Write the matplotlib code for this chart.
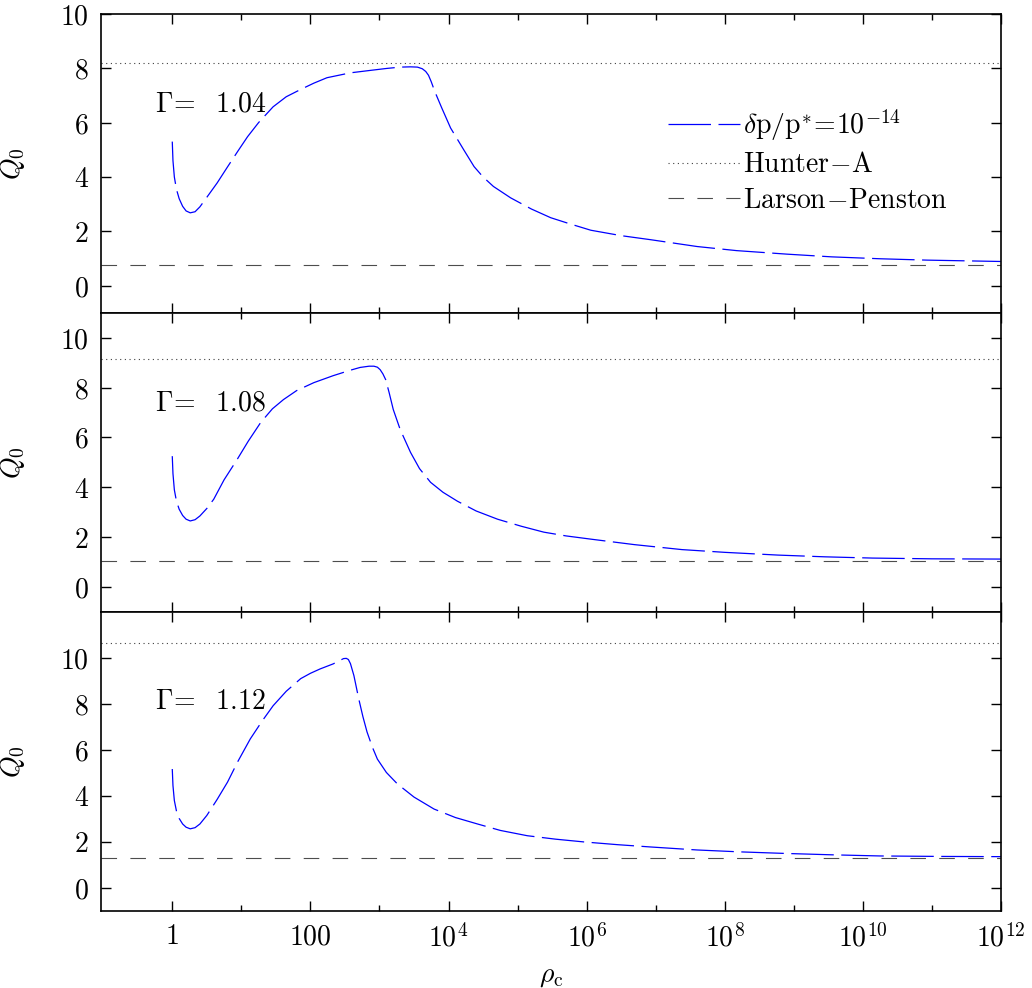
import numpy as np
import matplotlib
matplotlib.use('Agg')
import matplotlib.pyplot as plt
from matplotlib.ticker import FixedLocator, FuncFormatter, NullFormatter

plt.rcParams['mathtext.fontset'] = 'cm'
plt.rcParams['font.family'] = 'serif'
plt.rcParams['font.serif'] = ['DejaVu Serif']

# Gamma values for the three panels
gammas = ['1.04', '1.08', '1.12']

# log10(rho_c) and Q_0
lg_rho_1 = [0.00, 0.01, 0.03, 0.06, 0.10, 0.15, 0.20, 0.26, 0.33, 0.40, 0.50, 0.65,
            0.80, 0.95, 1.09, 1.25, 1.46, 1.65, 1.86, 2.05, 2.24, 2.58, 2.87, 3.10,
            3.30, 3.45, 3.55, 3.62, 3.67, 3.71, 3.75, 3.80, 3.90, 4.03, 4.22, 4.37,
            4.50, 4.65, 4.90, 5.20, 5.48, 5.75, 6.06, 6.50, 6.93, 7.60, 8.17, 8.90,
            9.55, 10.25, 10.93, 12.00]
q_1 = [5.30, 4.60, 4.00, 3.55, 3.20, 2.92, 2.75, 2.68, 2.72, 2.90, 3.25, 3.78,
       4.37, 4.95, 5.48, 6.00, 6.58, 6.95, 7.22, 7.45, 7.65, 7.83, 7.92, 7.99,
       8.04, 8.05, 8.04, 7.98, 7.88, 7.74, 7.50, 7.15, 6.55, 5.80, 5.00, 4.38,
       4.00, 3.65, 3.23, 2.82, 2.50, 2.28, 2.04, 1.84, 1.69, 1.44, 1.29, 1.16,
       1.06, 0.99, 0.94, 0.89]

lg_rho_2 = [0.00, 0.01, 0.03, 0.06, 0.10, 0.15, 0.20, 0.26, 0.33, 0.40, 0.50, 0.60,
            0.75, 0.94, 1.10, 1.28, 1.45, 1.61, 1.80, 2.05, 2.33, 2.58, 2.72, 2.85,
            2.92, 2.97, 3.01, 3.05, 3.09, 3.14, 3.20, 3.30, 3.45, 3.58, 3.74, 3.92,
            4.13, 4.40, 4.71, 5.05, 5.38, 5.70, 6.06, 6.69, 7.38, 8.00, 8.77, 9.45,
            10.14, 11.00, 12.00]
q_2 = [5.25, 4.55, 3.90, 3.45, 3.12, 2.87, 2.72, 2.65, 2.70, 2.85, 3.15, 3.52,
       4.30, 5.12, 5.85, 6.60, 7.15, 7.52, 7.88, 8.20, 8.48, 8.70, 8.81, 8.86,
       8.86, 8.82, 8.72, 8.55, 8.32, 7.80, 7.12, 6.32, 5.40, 4.75, 4.20, 3.80,
       3.44, 3.05, 2.72, 2.44, 2.20, 2.05, 1.92, 1.70, 1.50, 1.39, 1.28, 1.21,
       1.16, 1.13, 1.12]

lg_rho_3 = [0.00, 0.01, 0.03, 0.06, 0.10, 0.15, 0.20, 0.26, 0.33, 0.40, 0.50, 0.65,
            0.80, 0.95, 1.13, 1.30, 1.46, 1.65, 1.86, 2.00, 2.14, 2.33, 2.42, 2.48,
            2.52, 2.55, 2.58, 2.63, 2.70, 2.76, 2.82, 2.90, 2.97, 3.10, 3.26, 3.50,
            3.79, 4.10, 4.42, 4.75, 5.14, 5.55, 5.96, 6.45, 6.93, 7.60, 8.20, 8.87,
            9.55, 10.25, 11.10, 12.00]
q_3 = [5.17, 4.45, 3.80, 3.35, 3.02, 2.78, 2.64, 2.57, 2.62, 2.78, 3.15, 3.85,
       4.60, 5.50, 6.48, 7.25, 7.92, 8.55, 9.10, 9.33, 9.52, 9.74, 9.88, 9.97,
       9.98, 9.93, 9.75, 9.23, 8.22, 7.45, 6.78, 6.10, 5.60, 5.02, 4.52, 3.95,
       3.43, 3.06, 2.78, 2.50, 2.27, 2.12, 2.00, 1.88, 1.78, 1.65, 1.57, 1.50,
       1.44, 1.39, 1.37, 1.36]

hunter_a = [8.2, 9.15, 10.66]
larson_penston = [0.77, 1.04, 1.30]
y_tops = [10, 11, 12]

curves = [(lg_rho_1, q_1), (lg_rho_2, q_2), (lg_rho_3, q_3)]

x_major = [1, 1e2, 1e4, 1e6, 1e8, 1e10, 1e12]
x_minor = [10, 1e3, 1e5, 1e7, 1e9, 1e11]
y_major = [0, 2, 4, 6, 8, 10]


def xfmt(v, pos):
    e = int(round(np.log10(v)))
    if e == 0:
        return r'$1$'
    if e == 2:
        return r'$100$'
    return r'$10^{%d}$' % e


fig, axes = plt.subplots(3, 1, figsize=(10.32, 9.88), dpi=100, sharex=True)
fig.subplots_adjust(left=0.098, right=0.970, top=0.986, bottom=0.078, hspace=0)

fs = 20
for i, ax in enumerate(axes):
    lg, q = curves[i]
    rho = 10 ** np.array(lg)
    ax.plot(rho, q, color='#0000ff', lw=0.9, dashes=(34, 6),
            label=r'$\delta\mathrm{p/p^{*}\!=\!10^{-14}}$')
    ax.axhline(hunter_a[i], color='0.25', lw=0.8, dashes=(1, 3.2),
               label=r'$\mathrm{Hunter\!-\!A}$')
    ax.axhline(larson_penston[i], color='0.3', lw=0.8, dashes=(14, 12),
               label=r'$\mathrm{Larson\!-\!Penston}$')

    ax.set_xscale('log')
    ax.set_xlim(10 ** -1.03, 1e12)
    ax.set_ylim(-1, y_tops[i])
    ax.xaxis.set_major_locator(FixedLocator(x_major))
    ax.xaxis.set_minor_locator(FixedLocator(x_minor))
    ax.xaxis.set_major_formatter(FuncFormatter(xfmt))
    ax.xaxis.set_minor_formatter(NullFormatter())
    ax.yaxis.set_major_locator(FixedLocator(y_major))
    ax.yaxis.set_major_formatter(FuncFormatter(lambda v, p: r'$%d$' % v))
    ax.tick_params(which='both', direction='in', top=True, right=True,
                   labelsize=fs, width=1.0)
    ax.tick_params(which='major', length=7, pad=9)
    ax.tick_params(which='minor', length=4)
    ax.tick_params(axis='y', which='minor', left=False, right=False)
    for s in ax.spines.values():
        s.set_linewidth(1.2)

    ax.set_ylabel(r'$Q_0$', fontsize=fs)
    ax.yaxis.set_label_coords(-0.082, 0.5)
    ax.text(0.06, 0.70, r'$\Gamma\!=\ \ %s$' % gammas[i], transform=ax.transAxes,
            fontsize=fs, va='center', ha='left')

axes[0].legend(loc='upper left', bbox_to_anchor=(0.63, 0.688), frameon=False,
               fontsize=fs, handlelength=2.6, handletextpad=0.1,
               labelspacing=0.3, borderpad=0, borderaxespad=0)

axes[2].set_xlabel(r'$\rho_\mathrm{c}$', fontsize=fs)
axes[2].xaxis.set_label_coords(0.5, -0.17)

fig.savefig('out.png', dpi=100)
